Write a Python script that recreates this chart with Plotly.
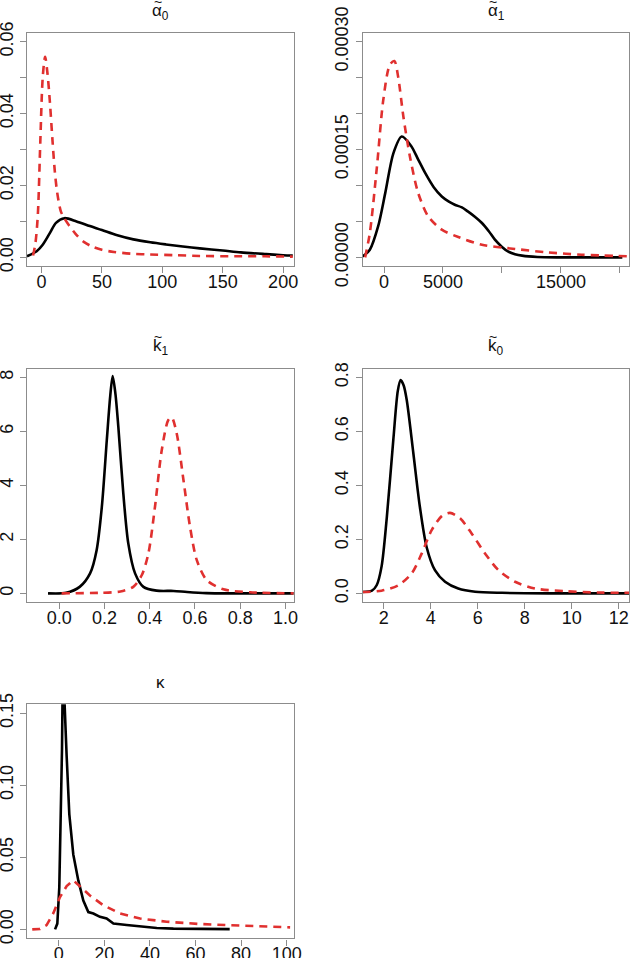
import plotly.graph_objects as go

# ---------------- data ----------------
a0_black_x = [-12, -4, 1, 7, 12, 19, 29, 40, 50, 62, 76, 90, 103, 117, 131, 150, 165, 186, 200, 208]
a0_black_y = [0.0003, 0.0017, 0.0035, 0.0068, 0.0096, 0.0109, 0.0100, 0.0087, 0.0076, 0.0062,
              0.0050, 0.0042, 0.0036, 0.0030, 0.0025, 0.0019, 0.0014, 0.0009, 0.0006, 0.0005]
a0_red_x = [-7, -5, -3, -1, 1, 3, 5, 7, 9, 11, 13, 16, 19, 23, 28, 35, 42, 50, 60, 75, 90, 110, 131, 160, 185, 208]
a0_red_y = [0.0005, 0.004, 0.012, 0.032, 0.050, 0.0558, 0.051, 0.043, 0.033, 0.024, 0.018, 0.0128,
            0.0108, 0.0088, 0.0066, 0.0043, 0.0030, 0.0021, 0.0015, 0.0010, 0.0008, 0.0006,
            0.0004, 0.0003, 0.0003, 0.0002]

a1_black_x = [-1800, -1200, -500, 100, 800, 1500, 2300, 2900, 3500, 4200, 4900, 5500, 6000, 6600,
              7100, 7700, 8300, 8900, 9400, 10000, 10500, 11100, 11700, 13000, 15000, 20200]
a1_black_y = [0.0000014, 0.0000107, 0.000043, 0.000089, 0.000145, 0.000168, 0.000155, 0.000136,
              0.000117, 0.000098, 0.0000847, 0.0000775, 0.0000732, 0.0000695, 0.0000639,
              0.0000565, 0.0000478, 0.0000360, 0.0000246, 0.0000145, 0.0000083, 0.0000045,
              0.0000024, 0.0000005, 0.0, 0.0]
a1_red_x = [-1600, -1200, -600, -60, 500, 880, 1200, 1640, 2200, 2900, 3750, 4900, 6300, 8300,
            11100, 13900, 16750, 20800]
a1_red_y = [0.0, 0.000034, 0.000126, 0.000219, 0.000268, 0.000273, 0.000251, 0.000196, 0.00014,
            0.0000894, 0.0000569, 0.0000385, 0.0000283, 0.0000176, 0.0000117, 0.0000069,
            0.0000037, 0.0000014]

k1_black_x = [-0.05, 0.03, 0.09, 0.136, 0.165, 0.188, 0.21, 0.225, 0.236, 0.248, 0.261, 0.283,
              0.305, 0.335, 0.372, 0.43, 0.505, 0.565, 0.65, 0.77, 1.036]
k1_black_y = [0.0, 0.02, 0.24, 0.74, 1.6, 3.2, 5.68, 7.3, 8.05, 7.4, 6.17, 3.7, 1.85, 0.74,
              0.24, 0.1, 0.09, 0.05, 0.01, 0.0, 0.0]
k1_red_x = [0.01, 0.18, 0.27, 0.327, 0.365, 0.394, 0.423, 0.453, 0.482, 0.497, 0.519, 0.549,
            0.578, 0.608, 0.652, 0.726, 0.844, 1.036]
k1_red_y = [0.0, 0.02, 0.07, 0.24, 0.68, 1.48, 3.2, 5.3, 6.42, 6.52, 5.93, 4.2, 2.47, 1.23,
            0.49, 0.15, 0.04, 0.0]

k0_black_x = [1.1, 1.5, 1.7, 1.91, 2.13, 2.41, 2.6, 2.72, 2.85, 2.98, 3.26, 3.54, 3.83, 4.18,
              4.61, 5.17, 5.89, 7.03, 9.0, 12.45]
k0_black_y = [0.005, 0.01, 0.03, 0.1, 0.28, 0.57, 0.75, 0.79, 0.77, 0.716, 0.52, 0.32, 0.17,
              0.086, 0.043, 0.018, 0.006, 0.002, 0.0, 0.0]
k0_red_x = [1.1, 1.91, 2.62, 3.19, 3.62, 4.04, 4.47, 4.82, 5.25, 5.74, 6.31, 6.88, 7.59, 8.44,
            9.71, 11.1, 12.45]
k0_red_y = [0.005, 0.01, 0.03, 0.074, 0.148, 0.234, 0.286, 0.298, 0.278, 0.222, 0.148, 0.086,
            0.043, 0.018, 0.008, 0.003, 0.002]

kap_black_x = [-1.6, -0.6, 0.26, 0.88, 1.45, 2.0, 2.5, 3.5, 4.65, 6.4, 8.6, 10.8, 13, 15.2,
               18.1, 21, 24, 29.8, 35.6, 43, 50.3, 62, 73.7, 75]
kap_black_y = [0.0, 0.004, 0.029, 0.075, 0.125, 0.21, 0.16, 0.12, 0.08, 0.052, 0.034, 0.020,
               0.012, 0.011, 0.0087, 0.0075, 0.004, 0.003, 0.002, 0.001, 0.0005, 0.0003,
               0.0002, 0.0002]
kap_red_x = [-11.6, -8.2, -5.3, -2.4, 0.57, 3.5, 6.4, 9.3, 13.7, 19.6, 26.9, 35.7, 47.4, 62,
             76.6, 91.2, 101.5]
kap_red_y = [0.0, 0.0003, 0.003, 0.011, 0.0224, 0.030, 0.034, 0.030, 0.0235, 0.0167, 0.011,
             0.0075, 0.0053, 0.0037, 0.0027, 0.0018, 0.0014]

# titles: base letter, subscript, whether a tilde sits on top
title_base = ["α", "α", "k", "k", "κ"]
title_sub = ["0", "1", "1", "0", ""]
title_tilde = [True, True, True, True, False]

# axis ticks (labelled major ticks, unlabelled minor ticks)
a0_xt = [0, 50, 100, 150, 200]
a0_yt = [0, 0.02, 0.04, 0.06]
a0_yl = ["0.00", "0.02", "0.04", "0.06"]
a0_ym = [0.01, 0.03, 0.05]
a1_xt = [0, 5000, 15000]
a1_xl = ["0", "5000", "15000"]
a1_xm = [10000, 20000]
a1_yt = [0, 0.00015, 0.0003]
a1_yl = ["0.00000", "0.00015", "0.00030"]
a1_ym = [0.00005, 0.0001, 0.0002, 0.00025]
k1_xt = [0, 0.2, 0.4, 0.6, 0.8, 1.0]
k1_xl = ["0.0", "0.2", "0.4", "0.6", "0.8", "1.0"]
k1_yt = [0, 2, 4, 6, 8]
k0_xt = [2, 4, 6, 8, 10, 12]
k0_yt = [0, 0.2, 0.4, 0.6, 0.8]
k0_yl = ["0.0", "0.2", "0.4", "0.6", "0.8"]
kap_xt = [0, 20, 40, 60, 80, 100]
kap_yt = [0, 0.05, 0.10, 0.15]
kap_yl = ["0.00", "0.05", "0.10", "0.15"]

# ---------------- figure ----------------
W, H = 630, 958
BLACK = "#000000"
RED = "#e0302f"
GRID = "#8c8c8c"
FONT = "Liberation Sans, Arial, sans-serif"
TXT = "#111111"

panels = [
    dict(xr=[-12, 209], yr=[-0.0024, 0.0624], box=[27, 294, 33, 266],
         xt=a0_xt, xl=None, xm=None, yt=a0_yt, yl=a0_yl, ym=a0_ym, smooth=True,
         bk=(a0_black_x, a0_black_y), rd=(a0_red_x, a0_red_y), title_y=12),
    dict(xr=[-1805, 20790], yr=[-0.000012, 0.000312], box=[362.7, 629.3, 33, 266],
         xt=a1_xt, xl=a1_xl, xm=a1_xm, yt=a1_yt, yl=a1_yl, ym=a1_ym, smooth=True,
         bk=(a1_black_x, a1_black_y), rd=(a1_red_x, a1_red_y), title_y=12),
    dict(xr=[-0.143, 1.038], yr=[-0.32, 8.31], box=[27, 294, 369, 602],
         xt=k1_xt, xl=k1_xl, xm=None, yt=k1_yt, yl=None, ym=None, smooth=True,
         bk=(k1_black_x, k1_black_y), rd=(k1_red_x, k1_red_y), title_y=347),
    dict(xr=[1.106, 12.45], yr=[-0.032, 0.831], box=[362.7, 629.3, 369, 602],
         xt=k0_xt, xl=None, xm=None, yt=k0_yt, yl=k0_yl, ym=None, smooth=True,
         bk=(k0_black_x, k0_black_y), rd=(k0_red_x, k0_red_y), title_y=347),
    dict(xr=[-13.9, 103.2], yr=[-0.0062, 0.1562], box=[27, 294, 704.3, 938.3],
         xt=kap_xt, xl=None, xm=None, yt=kap_yt, yl=kap_yl, ym=None, smooth=False,
         bk=(kap_black_x, kap_black_y), rd=(kap_red_x, kap_red_y), title_y=682),
]

fig = go.Figure()
layout = dict(width=W, height=H, margin=dict(l=0, r=0, t=0, b=0),
              paper_bgcolor="white", plot_bgcolor="white", showlegend=False,
              font=dict(family=FONT, size=18, color=TXT), annotations=[])


def minor(vals):
    if not vals:
        return dict(ticks="")
    return dict(tickmode="array", tickvals=vals, ticks="outside", ticklen=6,
                tickwidth=1.2, tickcolor=GRID, showgrid=False)


for i, p in enumerate(panels):
    n = i + 1
    xa = "x" if n == 1 else f"x{n}"
    ya = "y" if n == 1 else f"y{n}"
    xkey = "xaxis" if n == 1 else f"xaxis{n}"
    ykey = "yaxis" if n == 1 else f"yaxis{n}"
    x0, x1, y0, y1 = p["box"]
    common = dict(showline=True, linecolor=GRID, linewidth=1.4, mirror=True,
                  ticks="outside", ticklen=6, tickwidth=1.2, tickcolor=GRID,
                  showgrid=False, zeroline=False, automargin=False,
                  ticklabeloverflow="allow",
                  tickfont=dict(family=FONT, size=18, color=TXT))
    layout[xkey] = dict(common, domain=[x0 / W, x1 / W], range=p["xr"], anchor=ya,
                        tickmode="array", tickvals=p["xt"], ticklabelstandoff=-7,
                        ticktext=p["xl"] if p["xl"] is not None else [str(v) for v in p["xt"]],
                        minor=minor(p["xm"]))
    layout[ykey] = dict(common, domain=[1 - y1 / H, 1 - y0 / H], range=p["yr"], anchor=xa,
                        tickmode="array", tickvals=p["yt"], ticklabelstandoff=0,
                        ticktext=p["yl"] if p["yl"] is not None else [str(v) for v in p["yt"]],
                        tickangle=-90, minor=minor(p["ym"]))
    shape = "spline" if p["smooth"] else "linear"
    fig.add_trace(go.Scatter(x=p["bk"][0], y=p["bk"][1], xaxis=xa, yaxis=ya, mode="lines",
                             line=dict(color=BLACK, width=2.6, shape=shape, smoothing=0.8),
                             hoverinfo="skip"))
    fig.add_trace(go.Scatter(x=p["rd"][0], y=p["rd"][1], xaxis=xa, yaxis=ya, mode="lines",
                             line=dict(color=RED, width=2.6, dash="8px,6px", shape=shape,
                                       smoothing=0.8),
                             hoverinfo="skip"))
    cx = (x0 + x1) / 2
    sub = f"<sub>{title_sub[i]}</sub>" if title_sub[i] else ""
    layout["annotations"].append(dict(
        text=title_base[i] + sub, xref="paper", yref="paper", x=cx / W,
        y=1 - p["title_y"] / H, xanchor="center", yanchor="middle", showarrow=False,
        font=dict(family=FONT, size=17, color=TXT)))
    if title_tilde[i]:
        layout["annotations"].append(dict(
            text="~", xref="paper", yref="paper", x=(cx - 3) / W,
            y=1 - (p["title_y"] - 10) / H, xanchor="center", yanchor="middle",
            showarrow=False, font=dict(family=FONT, size=14, color=TXT)))

fig.update_layout(**layout)
fig.write_html("out.html", config={"displayModeBar": False},
               post_script="document.body.style.margin='0';"
                           "document.body.style.overflow='hidden';")
